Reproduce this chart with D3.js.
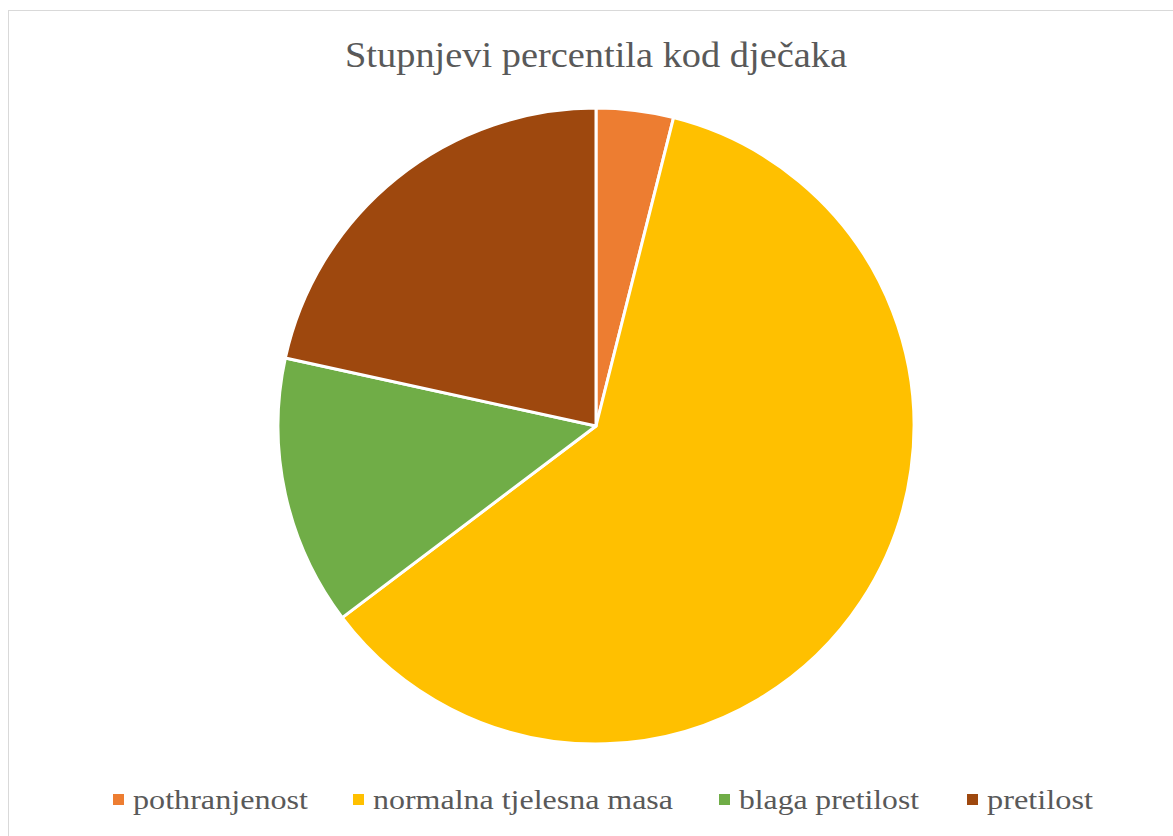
<!DOCTYPE html>
<html>
<head>
<meta charset="utf-8">
<script src="https://cdn.jsdelivr.net/npm/d3@7"></script>
<style>
  body { margin: 0; background: #fff; }
  svg { display: block; }
  .serif { font-family: "Liberation Serif", "DejaVu Serif", "Times New Roman", serif; fill: #595959; }
</style>
</head>
<body>
<svg id="chart" width="1173" height="836"></svg>
<script>
const categories = ["pothranjenost", "normalna tjelesna masa", "blaga pretilost", "pretilost"];
const values = [2, 31, 7, 11];
const colors = ["#ED7D31", "#FFC000", "#70AD47", "#9E480E"];
const title = "Stupnjevi percentila kod dječaka";

const svg = d3.select("#chart");
const width = 1173, height = 836;

// chart frame
svg.append("rect")
  .attr("x", 8.5).attr("y", 10.5)
  .attr("width", width + 10).attr("height", height + 10)
  .attr("fill", "#fff")
  .attr("stroke", "#d9d9d9")
  .attr("stroke-width", 1);

svg.append("text")
  .attr("class", "serif")
  .attr("x", 345).attr("y", 67)
  .attr("textLength", 502)
  .attr("lengthAdjust", "spacingAndGlyphs")
  .style("font-size", "36px")
  .text(title);

const cx = 596, cy = 426, r = 318;

const pie = d3.pie().sort(null).value(d => d.value);
const arc = d3.arc().innerRadius(0).outerRadius(r);
const data = categories.map((c, i) => ({ name: c, value: values[i], color: colors[i] }));

svg.append("g")
  .attr("transform", `translate(${cx},${cy})`)
  .selectAll("path")
  .data(pie(data))
  .join("path")
  .attr("d", arc)
  .attr("fill", d => d.data.color)
  .attr("stroke", "#fff")
  .attr("stroke-width", 3)
  .attr("stroke-linejoin", "round");

// legend
const legendX = [113, 353, 719, 967];
const legendW = [175, 300, 180, 106];
const legend = svg.append("g");
data.forEach((d, i) => {
  const g = legend.append("g").attr("transform", `translate(${legendX[i]},800)`);
  g.append("rect")
    .attr("x", 0).attr("y", -6)
    .attr("width", 11).attr("height", 11)
    .attr("fill", d.color);
  g.append("text")
    .attr("class", "serif")
    .attr("x", 20).attr("y", 9)
    .attr("textLength", legendW[i])
    .attr("lengthAdjust", "spacingAndGlyphs")
    .style("font-size", "28px")
    .text(d.name);
});
</script>
</body>
</html>
